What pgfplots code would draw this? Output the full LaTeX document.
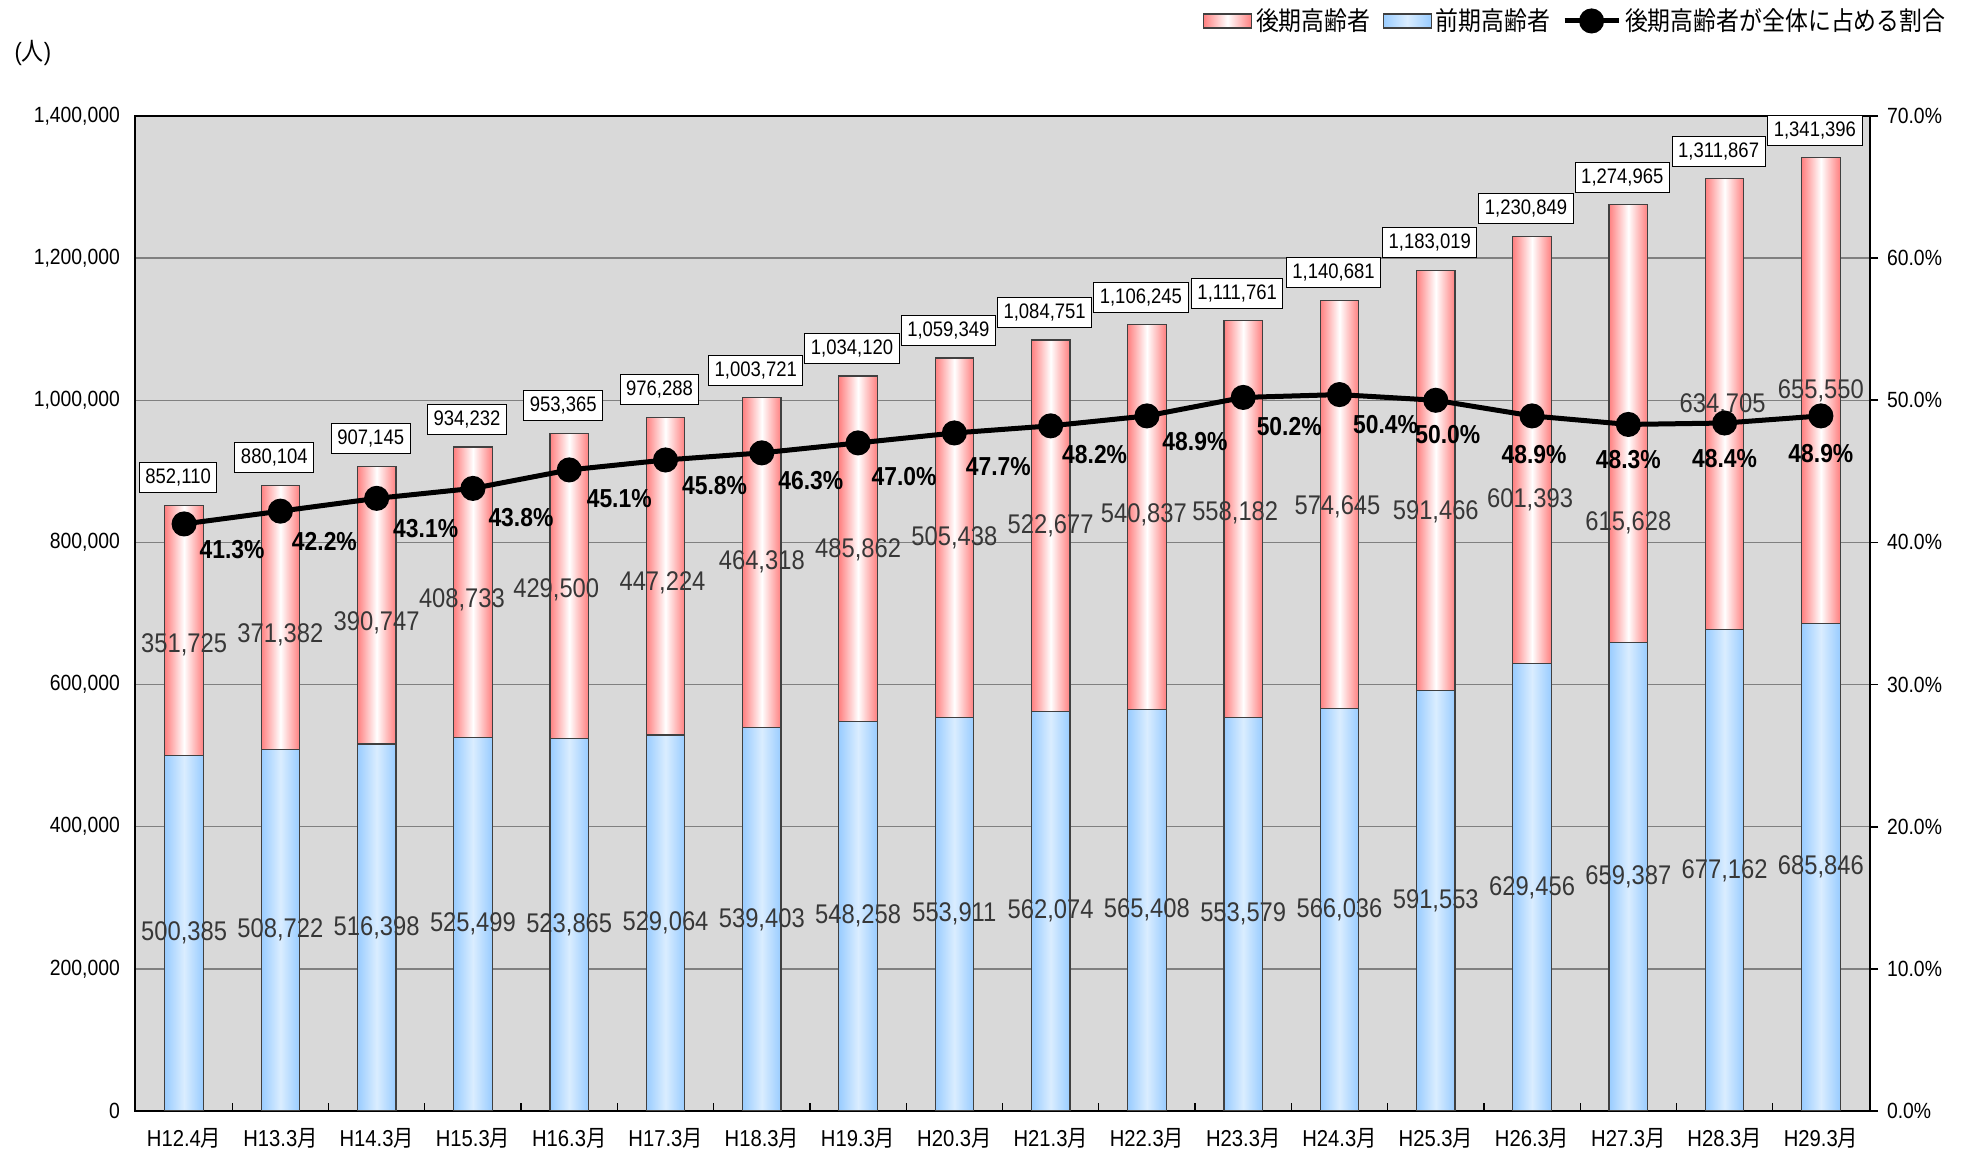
\documentclass[border=0pt]{standalone}
\usepackage{fontspec}
\setmainfont{Liberation Sans}[FakeStretch=0.88]
\newfontfamily\cjk{Noto Sans CJK JP}[FakeStretch=0.88]
\usepackage{pgfplots}
\usepackage{pgfplotstable}
\pgfplotsset{compat=1.18}
\pgfplotsset{/pgf/number format/assume math mode=true}

\definecolor{bgc}{RGB}{217,217,217}
\definecolor{redE}{RGB}{255,128,128}
\definecolor{blueE}{RGB}{153,204,255}
\definecolor{blueM}{RGB}{218,237,255}
\definecolor{lblc}{RGB}{55,55,55}

\pgfplotsset{
  barleg/.style={legend image code/.code={\draw[##1] (0pt,-3.5pt) rectangle (24pt,3.5pt);}},
  lineleg/.style={legend image code/.code={\draw[mark repeat=2,mark phase=2,##1] plot coordinates {(0pt,0pt) (13.5pt,0pt) (27pt,0pt)};}},
  redbar/.style={ybar, bar width=0.4, bar shift=0pt, draw=black!75, line width=0.6pt,
    left color=redE, right color=redE, middle color=white},
  bluebar/.style={ybar, bar width=0.4, bar shift=0pt, draw=black!75, line width=0.6pt,
    left color=blueE, right color=blueE, middle color=blueM},
}

% ry = height at which the label of the 後期 segment is set, rdx = its sideways shift (pt)
\pgfplotstableread{
x blue red total pct pdx pdy ry rdx
0 500385 351725 852110 41.3 24 -13 655700 0
1 508722 371382 880104 42.2 22 -15 669800 0
2 516398 390747 907145 43.1 24.5 -15 687200 0
3 525499 408733 934232 43.8 24 -14.5 719000 -5.5
4 523865 429500 953365 45.1 25 -14.5 733100 -6.5
5 529064 447224 976288 45.8 24.5 -13 742900 -1.5
6 539403 464318 1003721 46.3 24.5 -14 772200 0
7 548258 485862 1034120 47.0 23 -17 789900 0
8 553911 505438 1059349 47.7 22 -17 805800 0
9 562074 522677 1084751 48.2 22 -14.5 823500 0
10 565408 540837 1106245 48.9 24 -13 838600 -1.5
11 553579 558182 1111761 50.2 23 -14.5 841400 -4
12 566036 574645 1140681 50.4 23 -15 849900 -1
13 591553 591466 1183019 50.0 6 -17 842800 0
14 629456 601393 1230849 48.9 1 -19.5 859700 -1
15 659387 615628 1274965 48.3 0 -17.6 827300 0
16 677162 634705 1311867 48.4 0 -17.6 993400 -1
17 685846 655550 1341396 48.9 0 -19 1013100 0
}\data

\begin{document}
\begin{tikzpicture}
\path[use as bounding box] (-67.5pt,-22.5pt) rectangle (918.5pt,555.5pt);
\begin{axis}[
  at={(0,0)}, anchor=south west,
  scale only axis, width=867.5pt, height=497.5pt,
  xmin=-0.51, xmax=17.51, ymin=0, ymax=1400000,
  axis background/.style={fill=bgc},
  axis line style={line width=1pt},
  tick pos=left,
  xtick={0,...,17},
  xticklabels={H12.4{\cjk 月},H13.3{\cjk 月},H14.3{\cjk 月},H15.3{\cjk 月},H16.3{\cjk 月},H17.3{\cjk 月},H18.3{\cjk 月},H19.3{\cjk 月},H20.3{\cjk 月},H21.3{\cjk 月},H22.3{\cjk 月},H23.3{\cjk 月},H24.3{\cjk 月},H25.3{\cjk 月},H26.3{\cjk 月},H27.3{\cjk 月},H28.3{\cjk 月},H29.3{\cjk 月}},
  major x tick style={draw=none},
  minor xtick={0.5,1.5,...,16.5},
  minor tick length=4pt,
  minor x tick style={black, line width=0.6pt},
  xticklabel style={font=\fontsize{11.5}{13}\selectfont, yshift=-5pt},
  ytick={0,200000,...,1400000},
  scaled y ticks=false,
  yticklabel style={/pgf/number format/fixed, /pgf/number format/1000 sep={,}, font=\fontsize{11}{13}\selectfont, xshift=-4pt},
  ytick style={draw=none},
  ymajorgrids,
  grid style={draw=black!50, line width=0.7pt},
  ylabel={({\cjk 人})},
  every axis y label/.style={at={(rel axis cs:-0.0588,1.0633)}, anchor=center, font=\fontsize{12.5}{14}\selectfont},
]
\pgfplotsinvokeforeach{0,...,17}{
  \addplot[redbar, restrict x to domain=#1:#1] table[x=x,y=total]{\data};
  \addplot[bluebar, restrict x to domain=#1:#1] table[x=x,y=blue]{\data};
}
% value labels
\addplot[draw=none, mark=none, point meta=explicit,
  nodes near coords={\pgfmathprintnumber[fixed,precision=0,1000 sep={,}]{\pgfplotspointmeta}},
  nodes near coords style={anchor=center, text=lblc, font=\fontsize{13.5}{15}\selectfont}]
  table[x=x, y expr={\thisrow{blue}/2}, meta=blue]{\data};
\addplot[draw=none, mark=none, point meta=explicit,
  visualization depends on={\thisrow{rdx} \as \rdx},
  nodes near coords={\pgfmathprintnumber[fixed,precision=0,1000 sep={,}]{\pgfplotspointmeta}},
  nodes near coords style={anchor=center, xshift=\rdx pt, text=lblc, font=\fontsize{13.5}{15}\selectfont}]
  table[x=x, y=ry, meta=red]{\data};
\addplot[draw=none, mark=none, point meta=explicit,
  nodes near coords={\pgfmathprintnumber[fixed,precision=0,1000 sep={,}]{\pgfplotspointmeta}},
  nodes near coords style={anchor=south, yshift=6pt, xshift=-3pt, draw=black, line width=0.5pt, fill=white, text=black, inner xsep=3pt, inner ysep=0pt, minimum height=15pt, font=\fontsize{10.5}{12}\selectfont}]
  table[x=x, y=total, meta=total]{\data};
\end{axis}
\begin{axis}[
  at={(0,0)}, anchor=south west,
  scale only axis, width=867.5pt, height=497.5pt,
  xmin=-0.51, xmax=17.51, ymin=0, ymax=70,
  axis y line*=right, axis x line=none,
  axis line style={line width=1pt},
  ytick={0,10,...,70},
  yticklabel={\pgfmathprintnumber[fixed,fixed zerofill,precision=1]{\tick}\%},
  yticklabel style={font=\fontsize{11}{13}\selectfont, xshift=1pt},
  tick align=outside, major tick length=4pt,
  ytick style={black, line width=0.8pt},
  legend columns=3,
  legend style={draw=none, fill=none, inner sep=0pt, at={(1.046,1.0955)}, anchor=east,
    font=\fontsize{13}{15}\selectfont,
    nodes={inner sep=2pt},
    /tikz/every even column/.append style={column sep=4pt}},
]
\addlegendimage{barleg, draw=black!75, line width=0.6pt, left color=redE, right color=redE, middle color=white}
\addlegendentry{\cjk 後期高齢者}
\addlegendimage{barleg, draw=black!75, line width=0.6pt, left color=blueE, right color=blueE, middle color=blueM}
\addlegendentry{\cjk 前期高齢者}
\addlegendimage{lineleg, black, line width=2.5pt, mark=*, mark size=5pt, mark options={solid, fill=black}}
\addlegendentry{\cjk 後期高齢者が全体に占める割合}
\addplot[forget plot, black, line width=2.5pt, mark=*, mark size=5pt, mark options={solid, fill=black},
  point meta=explicit,
  visualization depends on={\thisrow{pdx} \as \pdx},
  visualization depends on={\thisrow{pdy} \as \pdy},
  nodes near coords={\pgfmathprintnumber[fixed,fixed zerofill,precision=1]{\pgfplotspointmeta}\%},
  nodes near coords style={anchor=center, xshift=\pdx pt, yshift=\pdy pt, text=black, font=\bfseries\fontsize{13}{15}\selectfont}]
  table[x=x, y=pct, meta=pct]{\data};
\end{axis}
\end{tikzpicture}
\end{document}
